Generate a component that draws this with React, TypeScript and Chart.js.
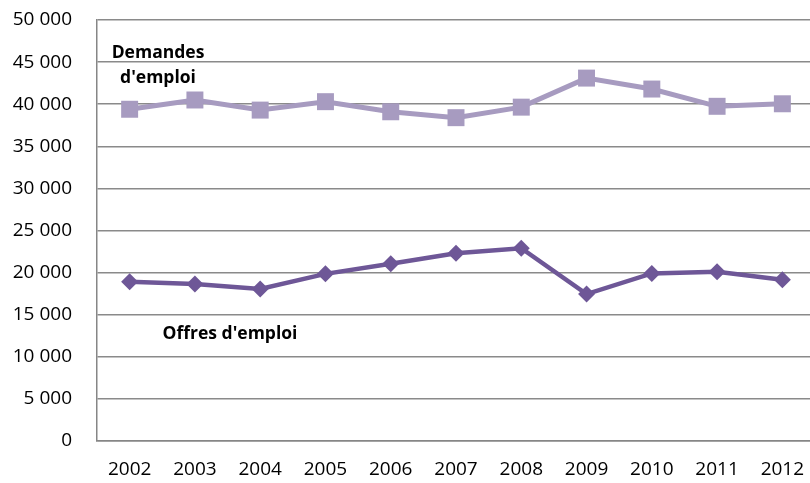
import React, { useEffect, useRef } from "react";
import { Chart, registerables } from "chart.js";

Chart.register(...registerables);

const years = ["2002", "2003", "2004", "2005", "2006", "2007", "2008", "2009", "2010", "2011", "2012"];
const demandes = [39400, 40500, 39300, 40300, 39100, 38400, 39650, 43100, 41800, 39750, 40050];
const offres = [18900, 18650, 18050, 19850, 21050, 22300, 22900, 17450, 19900, 20100, 19150];
const yTicks = [0, 5000, 10000, 15000, 20000, 25000, 30000, 35000, 40000, 45000, 50000];
const labelDemandes = ["Demandes", "d'emploi"];
const labelOffres = "Offres d'emploi";

const FONT = "'Open Sans', 'Noto Sans', sans-serif";

function fmt(v: number): string {
  if (v === 0) return "0";
  const s = String(v);
  return s.slice(0, s.length - 3) + " " + s.slice(s.length - 3);
}

export default function App() {
  const ref = useRef<HTMLCanvasElement | null>(null);

  useEffect(() => {
    document.body.style.margin = "0";
    const canvas = ref.current;
    if (!canvas) return;

    const annot = {
      id: "annot",
      afterDatasetsDraw(chart: any) {
        const ctx = chart.ctx;
        const a = chart.chartArea;
        ctx.save();
        ctx.fillStyle = "#000";
        ctx.textAlign = "center";
        ctx.textBaseline = "middle";
        ctx.font = `bold 17.5px ${FONT}`;
        ctx.fillText(labelDemandes[0], a.left + 61, a.top + 33);
        ctx.fillText(labelDemandes[1], a.left + 61, a.top + 58);
        ctx.fillText(labelOffres, a.left + 133, a.top + 314);
        ctx.restore();
      },
    };

    const chart = new Chart(canvas, {
      type: "line",
      data: {
        labels: years,
        datasets: [
          {
            label: "Demandes d'emploi",
            data: demandes,
            borderColor: "#A79BC0",
            backgroundColor: "#A79BC0",
            borderWidth: 5,
            pointStyle: "rect",
            pointRadius: 12,
            pointBorderWidth: 0,
            tension: 0,
          },
          {
            label: "Offres d'emploi",
            data: offres,
            borderColor: "#6E5797",
            backgroundColor: "#6E5797",
            borderWidth: 4.5,
            pointStyle: "rectRot",
            pointRadius: 8.5,
            pointBorderWidth: 0,
            tension: 0,
          },
        ],
      },
      options: {
        animation: false,
        responsive: false,
        maintainAspectRatio: false,
        layout: { padding: { top: 20, right: 0, left: 0, bottom: 0 } },
        plugins: {
          legend: { display: false },
          tooltip: { enabled: false },
        },
        scales: {
          x: {
            offset: true,
            grid: { display: false, drawTicks: false },
            border: { display: true, color: "#868686", width: 1.5 },
            ticks: {
              color: "#000",
              font: { family: FONT, size: 19 },
              padding: 17,
              maxRotation: 0,
              autoSkip: false,
            },
            afterFit(scale: any) {
              scale.height = 42;
            },
          },
          y: {
            min: 0,
            max: 50000,
            afterBuildTicks(scale: any) {
              scale.ticks = yTicks.map((v) => ({ value: v }));
            },
            grid: { color: "#8A8A8A", lineWidth: 1.5, drawTicks: false },
            border: { display: true, color: "#868686", width: 1.5 },
            ticks: {
              color: "#000",
              font: { family: FONT, size: 19 },
              padding: 25,
              callback: (v: any) => fmt(Number(v)),
            },
            afterFit(scale: any) {
              scale.width = 97;
              scale.paddingTop = 0;
              scale.paddingBottom = 0;
            },
          },
        },
      },
      plugins: [annot],
    });

    return () => chart.destroy();
  }, []);

  return (
    <div style={{ position: "absolute", left: 0, top: 0, width: 810, height: 483, overflow: "hidden", background: "#fff" }}>
      <canvas ref={ref} width={827} height={483} style={{ width: 827, height: 483, display: "block" }} />
    </div>
  );
}
